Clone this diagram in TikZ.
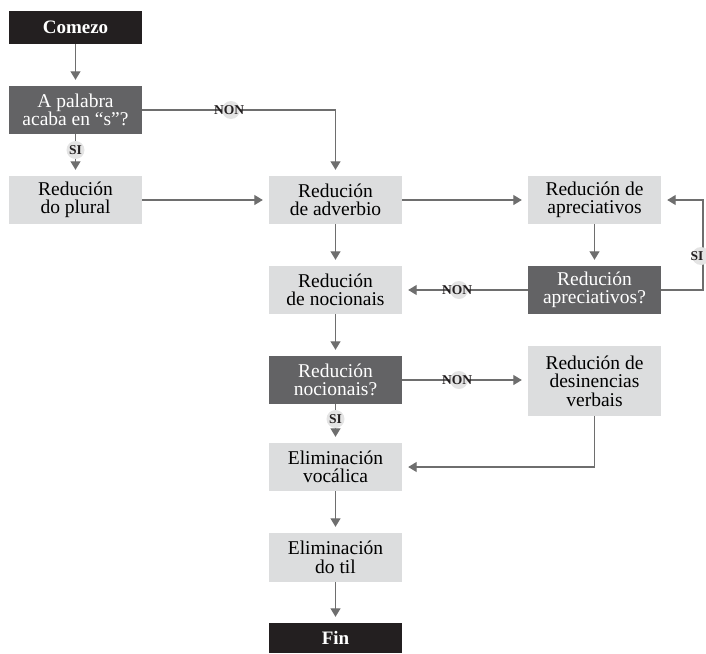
\documentclass[tikz,border=0pt]{standalone}
\usepackage{fontspec}
\setmainfont{Liberation Serif}
\usetikzlibrary{arrows.meta}
\definecolor{boxlight}{HTML}{DCDDDE}
\definecolor{boxdark}{HTML}{636365}
\definecolor{boxblack}{HTML}{231F20}
\definecolor{lineg}{HTML}{6E6E6E}
\definecolor{lblbg}{HTML}{E4E4E4}
\tikzset{
  basebox/.style={rectangle, minimum width=133pt, minimum height=48pt, inner sep=0pt, align=center,
    font=\fontsize{19.5}{18.5}\selectfont},
  procbox/.style={basebox, fill=boxlight, text=black},
  decbox/.style={basebox, fill=boxdark, text=white},
  termbox/.style={basebox, fill=boxblack, text=white, font=\bfseries\fontsize{19}{19}\selectfont},
  conn/.style={draw=lineg, line width=1.3pt, -{Triangle[width=10pt,length=8.5pt]}, shorten >=6pt},
  lbl/.style={inner sep=0pt, font=\bfseries\fontsize{13.5}{13.5}\selectfont, text=boxblack},
}
\begin{document}
\begin{tikzpicture}[x=1pt,y=-1pt]
\clip (0,0) rectangle (706,653);
\node[termbox, minimum height=33pt] (comezo) at (75.5,27.5) {Comezo};
\node[decbox] (q1) at (75.5,110) {A palabra\\acaba en “s”?};
\node[procbox] (plural) at (75.5,200) {Redución\\do plural};
\node[procbox] (adverb) at (335.5,200) {Redución\\de adverbio};
\node[procbox] (aprec) at (594.5,200) {Redución de\\apreciativos};
\node[decbox] (qaprec) at (594.5,290) {Redución\\apreciativos?};
\node[procbox] (nocion) at (335.5,290) {Redución\\de nocionais};
\node[decbox] (qnocion) at (335.5,380) {Redución\\nocionais?};
\node[procbox, minimum height=70pt] (desin) at (594.5,381) {Redución de\\desinencias\\verbais};
\node[procbox] (vocal) at (335.5,467) {Eliminación\\vocálica};
\node[procbox, minimum height=49pt] (til) at (335.5,557.5) {Eliminación\\do til};
\node[termbox, minimum height=30pt] (fin) at (335.5,638) {Fin};

\coordinate (loopA) at (703,290);
\coordinate (loopB) at (703,200);
\coordinate (desinC) at (594.5,467);

\draw[conn] (comezo) -- (q1);
\draw[conn] (q1.east) -| (adverb.north);
\draw[conn] (q1) -- (plural);
\draw[conn] (plural) -- (adverb);
\draw[conn] (adverb) -- (aprec);
\draw[conn] (aprec) -- (qaprec);
\draw[conn] (adverb) -- (nocion);
\draw[conn] (qaprec) -- (nocion);
\draw[conn] (qaprec.east) -- (loopA) -- (loopB) -- (aprec.east);
\draw[conn] (nocion) -- (qnocion);
\draw[conn] (qnocion.east) -- (qnocion.east -| desin.west);
\draw[conn] (qnocion) -- (vocal);
\draw[conn] (desin.south) -- (desinC) -- (vocal.east);
\draw[conn] (vocal) -- (til);
\draw[conn] (til) -- (fin);

\fill[lblbg] (231,110) circle (9pt);
\node[lbl] (non1) at (229,110) {NON};
\fill[lblbg] (75.5,150) circle (9pt);
\node[lbl] (si1) at (75.5,150) {SI};
\fill[lblbg] (459,290) circle (9pt);
\node[lbl] (non2) at (457,290) {NON};
\fill[lblbg] (701,256) circle (9pt);
\node[lbl] (si2) at (697,256) {SI};
\fill[lblbg] (459,380) circle (9pt);
\node[lbl] (non3) at (457,380) {NON};
\fill[lblbg] (335.5,419) circle (9pt);
\node[lbl] (si3) at (335.5,419) {SI};
\end{tikzpicture}
\end{document}
